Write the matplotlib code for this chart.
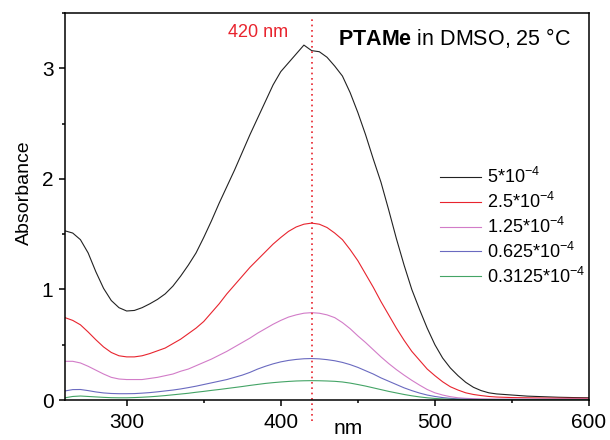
import numpy as np
import matplotlib
matplotlib.use('Agg')
from matplotlib import pyplot as plt
from matplotlib.ticker import MultipleLocator

plt.rcParams['font.family'] = ['Liberation Sans', 'DejaVu Sans']
plt.rcParams['mathtext.fontset'] = 'custom'
plt.rcParams['mathtext.rm'] = 'Liberation Sans'
plt.rcParams['mathtext.bf'] = 'Liberation Sans:bold'
plt.rcParams['mathtext.it'] = 'Liberation Sans:italic'

# 波长 (nm)
wl = [260, 265, 270, 275, 280, 285, 290, 295, 300, 305, 310, 315, 320, 325, 330, 335,
      340, 345, 350, 355, 360, 365, 370, 375, 380, 385, 390, 395, 400, 405, 410, 415,
      420, 425, 430, 435, 440, 445, 450, 455, 460, 465, 470, 475, 480, 485, 490, 495,
      500, 505, 510, 515, 520, 525, 530, 535, 540, 550, 560, 570, 580, 590, 600]

# 各浓度的吸光度
a_500 = [1.53, 1.51, 1.45, 1.33, 1.16, 1.01, 0.90, 0.835, 0.805, 0.81, 0.835, 0.87, 0.91, 0.96, 1.03, 1.12,
         1.22, 1.33, 1.47, 1.62, 1.78, 1.93, 2.08, 2.24, 2.40, 2.55, 2.70, 2.85, 2.97, 3.05, 3.13, 3.21,
         3.16, 3.15, 3.10, 3.02, 2.93, 2.78, 2.60, 2.40, 2.18, 1.97, 1.72, 1.46, 1.22, 1.00, 0.82, 0.65,
         0.50, 0.38, 0.29, 0.22, 0.16, 0.115, 0.085, 0.065, 0.055, 0.045, 0.035, 0.03, 0.025, 0.022, 0.02]
a_250 = [0.745, 0.72, 0.68, 0.615, 0.545, 0.48, 0.43, 0.40, 0.39, 0.39, 0.40, 0.42, 0.445, 0.47, 0.51, 0.55,
         0.60, 0.65, 0.71, 0.79, 0.87, 0.96, 1.04, 1.12, 1.20, 1.27, 1.34, 1.41, 1.47, 1.525, 1.565, 1.59,
         1.60, 1.59, 1.56, 1.51, 1.45, 1.36, 1.26, 1.14, 1.02, 0.89, 0.77, 0.65, 0.54, 0.44, 0.36, 0.28,
         0.22, 0.165, 0.12, 0.09, 0.065, 0.05, 0.04, 0.032, 0.027, 0.022, 0.02, 0.018, 0.017, 0.016, 0.015]
a_125 = [0.35, 0.35, 0.335, 0.305, 0.27, 0.235, 0.205, 0.19, 0.185, 0.185, 0.185, 0.195, 0.205, 0.22, 0.235, 0.26,
         0.28, 0.31, 0.34, 0.37, 0.405, 0.44, 0.48, 0.52, 0.56, 0.605, 0.645, 0.685, 0.72, 0.75, 0.77, 0.785,
         0.79, 0.785, 0.77, 0.745, 0.70, 0.645, 0.58, 0.52, 0.455, 0.39, 0.33, 0.275, 0.225, 0.178, 0.135, 0.095,
         0.065, 0.045, 0.03, 0.02, 0.015, 0.012, 0.01, 0.009, 0.008, 0.008, 0.008, 0.008, 0.008, 0.008, 0.008]
a_0625 = [0.082, 0.094, 0.095, 0.085, 0.073, 0.064, 0.059, 0.057, 0.057, 0.058, 0.062, 0.067, 0.074, 0.082, 0.09, 0.10,
          0.112, 0.125, 0.14, 0.155, 0.17, 0.185, 0.205, 0.225, 0.25, 0.28, 0.305, 0.327, 0.345, 0.358, 0.367, 0.373,
          0.375, 0.372, 0.365, 0.355, 0.34, 0.32, 0.295, 0.265, 0.235, 0.20, 0.17, 0.14, 0.11, 0.085, 0.063, 0.045,
          0.032, 0.022, 0.015, 0.01, 0.008, 0.006, 0.005, 0.005, 0.005, 0.005, 0.005, 0.005, 0.005, 0.005, 0.005]
a_03125 = [0.02, 0.032, 0.036, 0.032, 0.028, 0.024, 0.021, 0.02, 0.02, 0.022, 0.025, 0.029, 0.034, 0.04, 0.047, 0.054,
           0.061, 0.07, 0.078, 0.087, 0.095, 0.104, 0.113, 0.122, 0.132, 0.141, 0.15, 0.157, 0.163, 0.168, 0.172, 0.174,
           0.175, 0.174, 0.172, 0.169, 0.163, 0.153, 0.14, 0.126, 0.11, 0.094, 0.078, 0.064, 0.05, 0.038, 0.028, 0.02,
           0.014, 0.01, 0.007, 0.005, 0.004, 0.003, 0.003, 0.003, 0.003, 0.003, 0.003, 0.003, 0.003, 0.003, 0.003]

labels = ['5*10$^{-4}$', '2.5*10$^{-4}$', '1.25*10$^{-4}$', '0.625*10$^{-4}$', '0.3125*10$^{-4}$']
colors = ['#222222', '#e8242e', '#d27cc8', '#6a6ac0', '#44a466']
series = [a_500, a_250, a_125, a_0625, a_03125]
peak = 420

fig = plt.figure(figsize=(6.1, 4.4), dpi=100)
ax = fig.add_axes([0.1066, 0.0909, 0.859, 0.8795])

for y, c, lab in zip(series, colors, labels):
    ax.plot(wl, y, color=c, lw=0.8, label=lab)

# 420 nm 虚线 (延伸到坐标轴下方)
ax.plot([peak, peak], [-0.19, 3.45], color='#e8242e', lw=1.2, ls=(0, (1, 2.2)), clip_on=False)
ax.text(peak - 15, 3.32, '420 nm', color='#e8242e', fontsize=13, ha='right', va='center')

ax.set_xlim(260, 600)
ax.set_ylim(0, 3.5)
ax.xaxis.set_major_locator(MultipleLocator(100))
ax.xaxis.set_minor_locator(MultipleLocator(50))
ax.yaxis.set_major_locator(MultipleLocator(1))
ax.yaxis.set_minor_locator(MultipleLocator(0.5))
ax.tick_params(which='major', direction='out', length=4.3, width=1.1, labelsize=15)
ax.tick_params(axis='x', which='major', pad=5)
ax.tick_params(axis='y', which='major', pad=4)
ax.tick_params(which='minor', direction='out', length=2.5, width=1.1)
for s in ax.spines.values():
    s.set_linewidth(1.1)

ax.set_xlabel('nm', fontsize=15)
ax.xaxis.set_label_coords(0.54, -0.05)
ax.set_ylabel('Absorbance', fontsize=14)
ax.yaxis.set_label_coords(-0.062, 0.535)

fig.text(571 / 610, 1 - 38 / 440, r'$\mathbf{PTAMe}$ in DMSO, 25 °C', fontsize=15.5,
         ha='right', va='center')

ax.legend(loc='upper left', bbox_to_anchor=(0.701, 0.62), frameon=False, fontsize=13,
          handlelength=2.3, handletextpad=0.3, labelspacing=0.26, borderaxespad=0)

fig.savefig('out.png', dpi=100)
